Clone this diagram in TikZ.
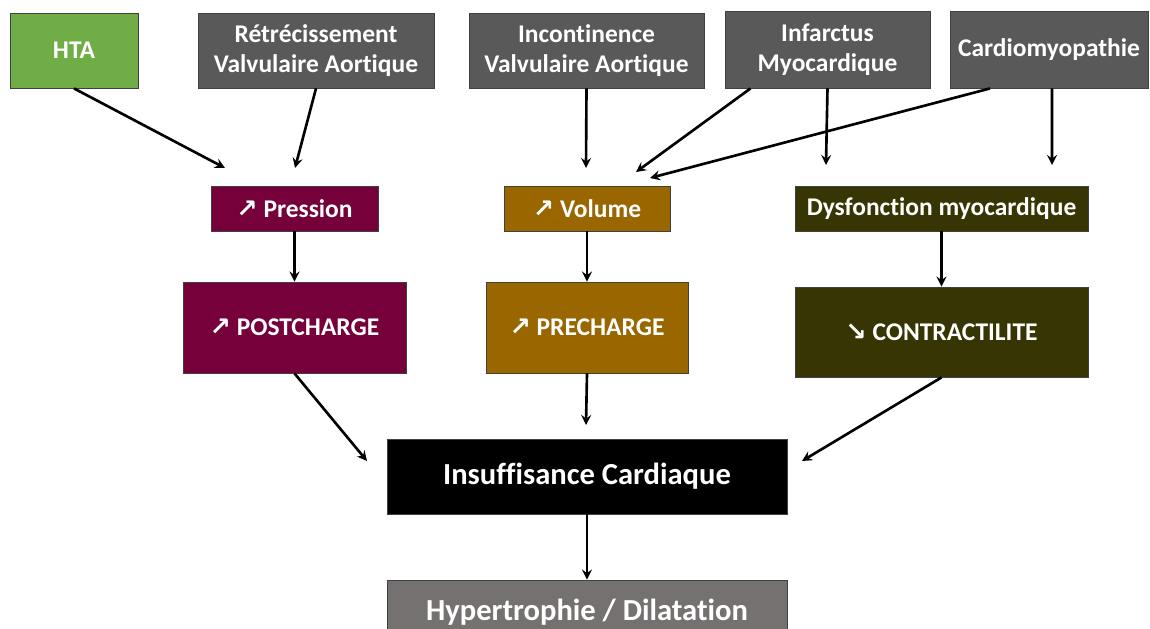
\documentclass[tikz,border=0pt]{standalone}
\usepackage{fontspec}
\setmainfont{Carlito}[Ligatures=NoCommon]
\newfontfamily\symfont{DejaVu Sans}
\usetikzlibrary{arrows,positioning}

\definecolor{htagreen}{HTML}{70AD47}
\definecolor{causegray}{HTML}{595959}
\definecolor{pressred}{HTML}{76003A}
\definecolor{volbrown}{HTML}{996600}
\definecolor{dysfolive}{HTML}{363503}
\definecolor{hypgray}{HTML}{767171}

\newcommand{\hausse}{{\symfont\char"2197}}
\newcommand{\baisse}{{\symfont\char"2198}}

\tikzset{
  box/.style={draw=black!75, line width=0.5pt, text=white, align=center, inner sep=0pt,
    font=\bfseries\fontsize{14.5}{17}\selectfont},
  bigbox/.style={box, font=\bfseries\fontsize{17.4}{20}\selectfont}
}

\begin{document}
\begin{tikzpicture}[x=0.02cm, y=-0.02cm]
  \useasboundingbox (0,0) rectangle (1150,629);
  % causes
  \node (hta) [box, fill=htagreen, minimum width=2.56cm, minimum height=1.5cm] at (74,50.5) {HTA};
  \node (retrec) [box, fill=causegray, minimum width=4.72cm, minimum height=1.5cm] at (316,50.5) {Rétrécissement\\Valvulaire Aortique};
  \node (incont) [box, fill=causegray, minimum width=4.7cm, minimum height=1.5cm] at (586.5,50.5) {Incontinence\\Valvulaire Aortique};
  \node (infarct) [box, fill=causegray, minimum width=4.1cm, minimum height=1.54cm] at (827.5,49.5) {Infarctus\\Myocardique};
  \node (cardio) [box, fill=causegray, minimum width=3.96cm, minimum height=1.54cm] at (1049,49.5) {Cardiomyopathie};
  % mechanisms
  \node (pression) [box, fill=pressred, minimum width=3.34cm, minimum height=0.9cm] at (294.5,208.5) {\hausse{} Pression};
  \node (volume) [box, fill=volbrown, minimum width=3.32cm, minimum height=0.9cm] at (587,208.5) {\hausse{} Volume};
  \node (dysf) [box, fill=dysfolive, minimum width=5.86cm, minimum height=0.9cm] at (941.5,208.5) {Dysfonction myocardique};
  \node (postch) [box, fill=pressred, minimum width=4.46cm, minimum height=1.82cm] at (294.5,327.5) {\hausse{} POSTCHARGE};
  \node (prech) [box, fill=volbrown, minimum width=4.04cm, minimum height=1.82cm] at (587,327.5) {\hausse{} PRECHARGE};
  \node (contr) [box, fill=dysfolive, minimum width=5.86cm, minimum height=1.8cm] at (941.5,332) {\baisse{} CONTRACTILITE};
  % outcome
  \node (insuff) [bigbox, fill=black, minimum width=8cm, minimum height=1.5cm] at (587,476.5) {Insuffisance Cardiaque};
  \node (hypert) [bigbox, fill=hypgray, minimum width=8cm, minimum height=1.2cm, text depth=0pt] at (587,610) {Hypertrophie / Dilatation};

  % free arrow ends
  \coordinate (t-hta) at (225,168);
  \coordinate (t-retrec) at (295,168);
  \coordinate (t-incont) at (586,168);
  \coordinate (t-infvol) at (636,172);
  \coordinate (t-infdys) at (826,165);
  \coordinate (t-carvol) at (650,178);
  \coordinate (t-cardys) at (1052,165);
  \coordinate (t-post) at (367,461);
  \coordinate (t-pre) at (586,425);
  \coordinate (t-contr) at (802,461);

  \path[-stealth, line width=1.5pt]
  (hta.south) edge (t-hta)
  (retrec.south) edge (t-retrec)
  (incont.south) edge (t-incont)
  ([xshift=-1.54cm]infarct.south) edge (t-infvol)
  (infarct.south) edge (t-infdys)
  ([xshift=-1.18cm]cardio.south) edge (t-carvol)
  ([xshift=0.06cm]cardio.south) edge (t-cardys)
  (pression) edge (postch)
  (volume) edge (prech)
  (dysf) edge (contr)
  (postch.south) edge (t-post)
  (prech.south) edge (t-pre)
  (contr.south) edge (t-contr)
  (insuff) edge (hypert);
\end{tikzpicture}
\end{document}
